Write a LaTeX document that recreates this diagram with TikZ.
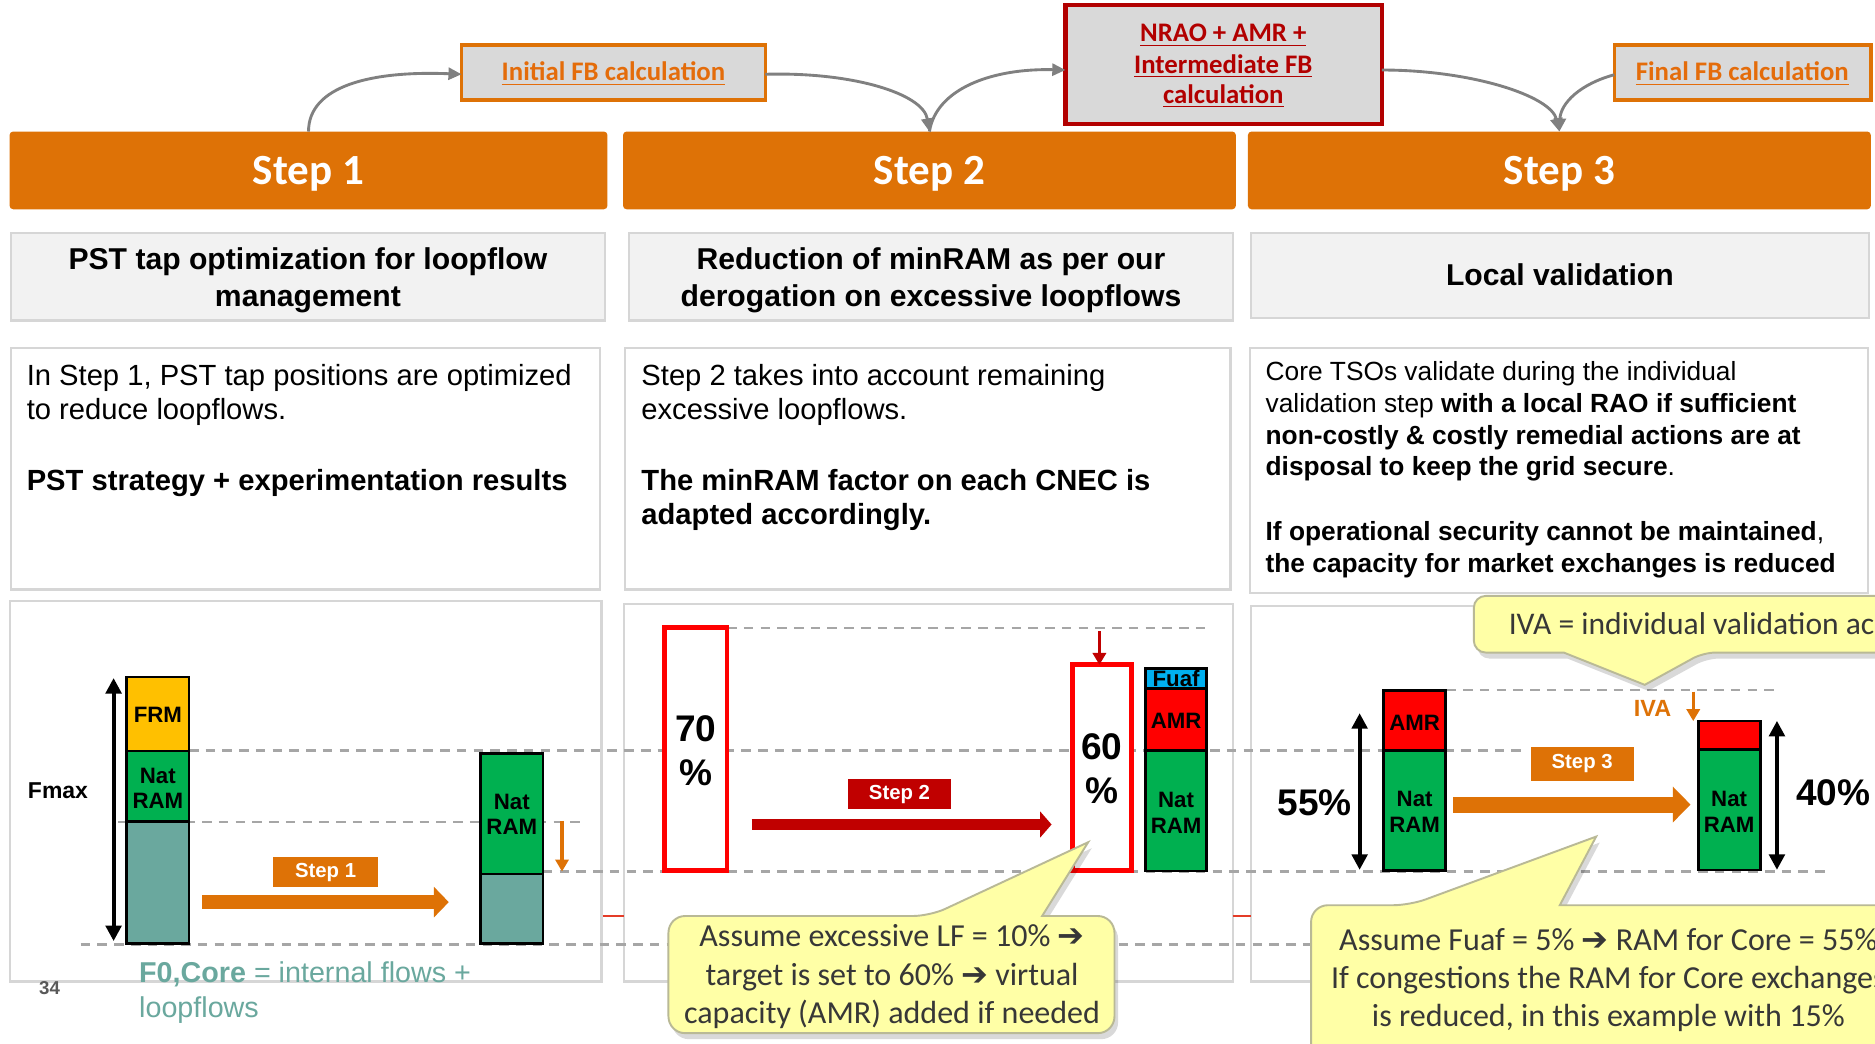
\documentclass[tikz,border=0pt]{standalone}
\usepackage{fontspec}
\setmainfont{Liberation Sans}
\newfontfamily\calib{Carlito}
\newfontfamily\djv{DejaVu Sans}
\usetikzlibrary{arrows.meta,fit}
\definecolor{orng}{RGB}{222,114,6}
\definecolor{orngtxt}{RGB}{228,108,10}
\definecolor{dred}{RGB}{192,0,0}
\definecolor{nraored}{RGB}{178,0,0}
\definecolor{boxgray}{RGB}{217,217,217}
\definecolor{subfill}{RGB}{242,242,242}
\definecolor{bordgray}{RGB}{214,214,214}
\definecolor{dashgray}{RGB}{166,166,166}
\definecolor{grn}{RGB}{0,176,80}
\definecolor{tealbar}{RGB}{106,168,158}
\definecolor{frmy}{RGB}{255,192,0}
\definecolor{fuafb}{RGB}{0,176,240}
\definecolor{cfill}{RGB}{255,255,166}
\definecolor{cbord}{RGB}{185,185,150}
\definecolor{arrgray}{RGB}{128,128,128}
\definecolor{ctext}{RGB}{55,55,55}
\definecolor{tealtxt}{RGB}{106,168,158}
\definecolor{redseg}{RGB}{228,60,40}
\definecolor{numgray}{RGB}{89,89,89}
\newcommand{\fsz}[2]{\fontsize{#1}{#2}\selectfont}
\newcommand{\harr}{{\djv ➔}}
\begin{document}
\begin{tikzpicture}[x=0.5pt,y=-0.5pt,
  plainbox/.style={inner sep=0pt, outer sep=0pt},
  hdr/.style={plainbox, fill=orng, rounded corners=1.5pt},
  hdrtxt/.style={anchor=base, inner sep=0pt, text=white, font=\calib\bfseries\fsz{18}{20}},
  topbox/.style={plainbox, fill=boxgray, draw=orng, line width=1.4pt},
  toptxt/.style={anchor=base, inner sep=0pt, text=orngtxt, font=\calib\bfseries\fsz{11.2}{13}},
  subbox/.style={plainbox, fill=subfill, draw=bordgray, line width=0.9pt},
  subtxt/.style={anchor=base, inner sep=0pt, font=\bfseries\fsz{12.6}{15}},
  txtbox/.style={plainbox, fill=white, draw=bordgray, line width=0.9pt},
  bodytxt/.style={anchor=base west, inner sep=0pt, font=\fsz{12.2}{14.5}},
  smalltxt/.style={anchor=base west, inner sep=0pt, font=\fsz{11}{13.5}},
  garrow/.style={draw=arrgray, line width=1.2pt, -{Triangle[length=5.5pt,width=5pt]}},
  dashln/.style={draw=dashgray, line width=1pt, dash pattern=on 4pt off 3pt},
  barbox/.style={plainbox, draw=black, line width=1.1pt},
  bartxt/.style={anchor=base, inner sep=0pt, font=\bfseries\fsz{9.3}{11}},
  pctbox/.style={plainbox, draw=red, fill=white, line width=2pt},
  pcttxt/.style={anchor=base, inner sep=0pt, font=\bfseries\fsz{15.5}{18}},
  dblarr/.style={draw=black, line width=1.6pt, {Triangle[length=6.5pt,width=6.5pt]}-{Triangle[length=6.5pt,width=6.5pt]}},
  lbltxt/.style={anchor=base, inner sep=0pt, text=white, font=\bfseries\fsz{8.5}{10}},
  callshape/.style={fill=cfill, draw=cbord, line width=0.8pt},
  cshadow/.style={fill=black, opacity=0.15},
  calltxt/.style={anchor=base, inner sep=0pt, text=ctext, font=\calib\fsz{13.4}{16}},
]
\useasboundingbox (0,0) rectangle (1568,873);
\clip (0,0) rectangle (1568,873);
\fill[white] (0,0) rectangle (1568,873);

% headers
\node[hdr, fit={(8,110) (508,175)}] (h1) {};
\node[hdr, fit={(521,110) (1033.5,175)}] (h2) {};
\node[hdr, fit={(1043.6,110) (1564.5,175)}] (h3) {};
\node[hdrtxt] (h1t) at (258,154.5) {Step 1};
\node[hdrtxt] (h2t) at (777.3,154.5) {Step 2};
\node[hdrtxt] (h3t) at (1304,154.5) {Step 3};

% top boxes
\node[topbox, fit={(386,37.5) (640,83.5)}] (init) {};
\node[toptxt] (initt) at (513,67.7) {\underline{Initial FB calculation}};
\node[topbox, draw=nraored, line width=1.8pt, fit={(891,4) (1155.5,103.5)}] (nrao) {};
\node[toptxt, text=nraored] (nrao1) at (1023,34.8) {\underline{NRAO + AMR +}};
\node[toptxt, text=nraored] (nrao2) at (1023,61.3) {\underline{Intermediate FB}};
\node[toptxt, text=nraored] (nrao3) at (1023,86.4) {\underline{calculation}};
\node[topbox, fit={(1350,37.5) (1564.5,83.5)}] (final) {};
\node[toptxt] (finalt) at (1457,67.7) {\underline{Final FB calculation}};

% curved arrows
\draw[garrow] (h1.north) .. controls (258,72) and (310,59) .. ([yshift=-0.8pt]init.west);
\draw[garrow] ([yshift=-0.8pt]init.east) .. controls (712,60) and (772,78) .. (h2.north);
\draw[garrow] (h2.north) .. controls (783,74) and (830,57) .. ([yshift=-2.4pt]nrao.west);
\draw[garrow] ([yshift=-2.4pt]nrao.east) .. controls (1230,58.5) and (1297,80) .. (h3.north);
\draw[garrow] ([yshift=-1pt]final.west) .. controls (1322,70) and (1305,86) .. (h3.north);

% subtitle boxes
\node[subbox, fit={(9,195) (506,268)}] (s1) {};
\node[subbox, fit={(526,195) (1031,268)}] (s2) {};
\node[subbox, fit={(1046,195) (1563,266)}] (s3) {};
\node[subtxt] (s1a) at (257.5,225) {PST tap optimization for loopflow};
\node[subtxt] (s1b) at (257.5,256) {management};
\node[subtxt] (s2a) at (778.5,225) {Reduction of minRAM as per our};
\node[subtxt] (s2b) at (778.5,256) {derogation on excessive loopflows};
\node[subtxt] (s3a) at (1304.5,239) {Local validation};

% text boxes
\node[txtbox, fit={(9,291) (502,493)}] (t1) {};
\node[txtbox, fit={(523,291) (1029,493)}] (t2) {};
\node[txtbox, fit={(1045,291) (1562,496)}] (t3) {};
\node[bodytxt] (t1a) at (22,322) {In Step 1, PST tap positions are optimized};
\node[bodytxt] (t1b) at (22,351) {to reduce loopflows.};
\node[bodytxt, font=\bfseries\fsz{12.2}{14.5}] (t1c) at (22,410) {PST strategy + experimentation results};
\node[bodytxt] (t2a) at (536,322) {Step 2 takes into account remaining};
\node[bodytxt] (t2b) at (536,351) {excessive loopflows.};
\node[bodytxt, font=\bfseries\fsz{12.2}{14.5}] (t2c) at (536,410) {The minRAM factor on each CNEC is};
\node[bodytxt, font=\bfseries\fsz{12.2}{14.5}] (t2d) at (536,439) {adapted accordingly.};
\node[smalltxt] (t3a) at (1058,318) {Core TSOs validate during the individual};
\node[smalltxt] (t3b) at (1058,345) {validation step \textbf{with a local RAO if sufficient}};
\node[smalltxt] (t3c) at (1058,372) {\textbf{non-costly \& costly remedial actions are at}};
\node[smalltxt] (t3d) at (1058,398) {\textbf{disposal to keep the grid secure}.};
\node[smalltxt] (t3e) at (1058,452) {\textbf{If operational security cannot be maintained},};
\node[smalltxt] (t3f) at (1058,479) {\textbf{the capacity for market exchanges is reduced}};

% bottom boxes
\node[txtbox, fit={(8.5,502.5) (503,820.8)}] (b1) {};
\node[txtbox, fit={(522,505) (1030.8,820.8)}] (b2) {};
\node[txtbox, fit={(1046,506.5) (1580,820.8)}] (b3) {};
\draw[redseg, line width=1pt] (504,766) -- (522,766);
\draw[redseg, line width=1pt] (1030.8,766) -- (1046,766);

% dashed guide lines
\draw[dashln] (158,627.6) -- (1274,627.6);
\draw[dashln] (99,687.5) -- (490,687.5);
\draw[dashln] (454,728.8) -- (1529,728.8);
\draw[dashln] (67.5,789.9) -- (1100,789.9);
\draw[dashln] (608,525.4) -- (1011.5,525.4);
\draw[dashln] (1209.5,577) -- (1485.5,577);

% ---- Step 1 diagram
\node[barbox, fill=frmy, fit={(106,566) (158,628)}] (frm) {};
\node[barbox, fill=grn, fit={(106,628) (158,687)}] (nr1) {};
\node[barbox, fill=tealbar, fit={(106,687) (158,789)}] (f01) {};
\node[bartxt] (frmt) at (132,604.2) {FRM};
\node[bartxt] (nr1a) at (132,655) {Nat};
\node[bartxt] (nr1b) at (132,676) {RAM};
\coordinate (d1t) at (95,567);
\coordinate (d1b) at (95,787);
\draw[dblarr] (d1b) -- (d1t);
\node[anchor=base west, inner sep=0pt, font=\bfseries\fsz{9.6}{11}] (fmax) at (23,668) {Fmax};
\node[barbox, fill=grn, fit={(402,630) (454,731)}] (nr2) {};
\node[barbox, fill=tealbar, fit={(402,731) (454,789)}] (f02) {};
\node[bartxt] (nr2a) at (428,677) {Nat};
\node[bartxt] (nr2b) at (428,698) {RAM};
\coordinate (oa1) at (470,686.5);
\coordinate (oa2) at (470,728.8);
\draw[draw=orng, line width=1.4pt, -{Triangle[length=5pt,width=5.5pt]}] (oa1) -- (oa2);
\node[plainbox, fill=orng, fit={(228.6,716.6) (316,741.7)}] (l1) {};
\node[lbltxt] (l1t) at (272.3,733.5) {Step 1};
\coordinate (a1s) at (169,754.4);
\coordinate (a1e) at (375.3,754.4);
\draw[draw=orng, line width=6pt, -{Triangle[length=6.2pt,width=12.4pt]}] (a1s) -- (a1e);

% ---- Step 2 diagram
\node[pctbox, fit={(556,525) (608,728)}] (p70) {};
\node[pcttxt] (p70a) at (582,620) {70};
\node[pcttxt] (p70b) at (582,657) {\%};
\node[pctbox, fit={(897,556) (946,728)}] (p60) {};
\node[pcttxt] (p60a) at (921.5,635.5) {60};
\node[pcttxt] (p60b) at (921.5,672) {\%};
\coordinate (ra1) at (919.4,528);
\draw[draw=dred, line width=1.4pt, -{Triangle[length=5pt,width=5.5pt]}] (ra1) -- (p60.north -| ra1);
\node[barbox, fill=fuafb, fit={(958,559) (1009,576)}] (fuaf) {};
\node[barbox, fill=red, fit={(958,576) (1009,627.6)}] (amr2) {};
\node[barbox, fill=grn, fit={(958,627.6) (1009,728.3)}] (nr3) {};
\node[bartxt] (fuaft) at (983.5,574) {Fuaf};
\node[bartxt] (amr2t) at (983.5,609) {AMR};
\node[bartxt] (nr3a) at (983.5,675) {Nat};
\node[bartxt] (nr3b) at (983.5,697) {RAM};
\node[plainbox, fill=dred, fit={(708.8,651.6) (795.5,676.7)}] (l2) {};
\node[lbltxt] (l2t) at (752.2,669) {Step 2};
\coordinate (a2s) at (628.6,689.5);
\coordinate (a2e) at (879.4,689.5);
\draw[draw=dred, line width=5pt, -{Triangle[length=4.8pt,width=10.7pt]}] (a2s) -- (a2e);

% ---- Step 3 diagram
\node[barbox, fill=red, fit={(1157,577.5) (1209,627.6)}] (amr3) {};
\node[barbox, fill=grn, fit={(1157,627.6) (1209,728)}] (nr4) {};
\node[bartxt] (amr3t) at (1183,611) {AMR};
\node[bartxt] (nr4a) at (1183,674.5) {Nat};
\node[bartxt] (nr4b) at (1183,696) {RAM};
\coordinate (d2t) at (1137,596.4);
\coordinate (d2b) at (1137,727.4);
\draw[dblarr] (d2b) -- (d2t);
\node[pcttxt] (p55) at (1099.5,682.3) {55\%};
\node[barbox, fill=red, fit={(1420.5,603) (1472,627)}] (iva3) {};
\node[barbox, fill=grn, fit={(1420.5,627) (1472,727.4)}] (nr5) {};
\node[bartxt] (nr5a) at (1446,674.5) {Nat};
\node[bartxt] (nr5b) at (1446,696) {RAM};
\coordinate (d3t) at (1486,602.8);
\coordinate (d3b) at (1486,727.4);
\draw[dblarr] (d3b) -- (d3t);
\node[pcttxt] (p40) at (1533,674) {40\%};
\node[anchor=base, inner sep=0pt, text=orng, font=\bfseries\fsz{9.8}{11}] (ivat) at (1382,599) {IVA};
\coordinate (ia1) at (1416,578.3);
\draw[draw=orng, line width=1.4pt, -{Triangle[length=5pt,width=5.5pt]}] (ia1) -- (iva3.north -| ia1);
\node[plainbox, fill=orng, fit={(1280,624.8) (1366.2,653)}] (l3) {};
\node[lbltxt] (l3t) at (1323.1,642.4) {Step 3};
\coordinate (a3s) at (1215.2,672.8);
\coordinate (a3e) at (1413.7,672.8);
\draw[draw=orng, line width=6.7pt, -{Triangle[length=7.4pt,width=14.6pt]}] (a3s) -- (a3e);

% ---- callouts
\begin{scope}[shift={(3,5)}]
\path[cshadow] (559,810) [rounded corners=7pt] -- (559,766) -- (777.7,766) [sharp corners] -- (910,704.3) -- (871.5,766) [rounded corners=7pt] -- (932,766) -- (932,864) -- (559,864) -- cycle;
\path[cshadow] (1096.4,820) [rounded corners=7pt] -- (1096.4,757) -- (1179,757) [sharp corners] -- (1334.8,699.6) -- (1304.4,757) [rounded corners=7pt] -- (1620,757) -- (1620,920) -- (1096.4,920) -- cycle;
\path[cshadow] (1232.5,520) [rounded corners=5pt] -- (1232.5,498.3) -- (1620,498.3) -- (1620,545.7) -- (1424.5,545.7) [sharp corners] -- (1375.4,572.7) -- (1307.7,545.7) [rounded corners=5pt] -- (1232.5,545.7) -- cycle;
\end{scope}
\path[callshape] (559,810) [rounded corners=7pt] -- (559,766) -- (777.7,766) [sharp corners] -- (910,704.3) -- (871.5,766) [rounded corners=7pt] -- (932,766) -- (932,864) -- (559,864) -- cycle;
\node[calltxt] (c2a) at (746,791.5) {Assume excessive LF = 10\% \harr};
\node[calltxt] (c2b) at (746,823.8) {target is set to 60\% \harr\ virtual};
\node[calltxt] (c2c) at (746,856) {capacity (AMR) added if needed};

\path[callshape] (1096.4,820) [rounded corners=7pt] -- (1096.4,757) -- (1179,757) [sharp corners] -- (1334.8,699.6) -- (1304.4,757) [rounded corners=7pt] -- (1620,757) -- (1620,920) -- (1096.4,920) -- cycle;
\node[calltxt] (c3a) at (1345,794.9) {Assume Fuaf = 5\% \harr\ RAM for Core = 55\%};
\node[calltxt] (c3b) at (1345,826.4) {If congestions the RAM for Core exchanges};
\node[calltxt] (c3c) at (1345,858.4) {is reduced, in this example with 15\%};

\path[callshape] (1232.5,520) [rounded corners=5pt] -- (1232.5,498.3) -- (1620,498.3) -- (1620,545.7) -- (1424.5,545.7) [sharp corners] -- (1375.4,572.7) -- (1307.7,545.7) [rounded corners=5pt] -- (1232.5,545.7) -- cycle;
\node[calltxt, anchor=base west, font=\calib\fsz{13.2}{16}] (c4) at (1261.3,531) {IVA = individual validation ac};

% footer texts
\node[anchor=base west, inner sep=0pt, text=numgray, font=\bfseries\fsz{7.8}{9}] (pnum) at (32.4,832) {34};
\node[anchor=base west, inner sep=0pt, text=tealtxt, font=\fsz{12}{14.5}] (f0a) at (116,822) {\textbf{F0,Core} = internal flows +};
\node[anchor=base west, inner sep=0pt, text=tealtxt, font=\fsz{12}{14.5}] (f0b) at (116,851) {loopflows};
\end{tikzpicture}
\end{document}
